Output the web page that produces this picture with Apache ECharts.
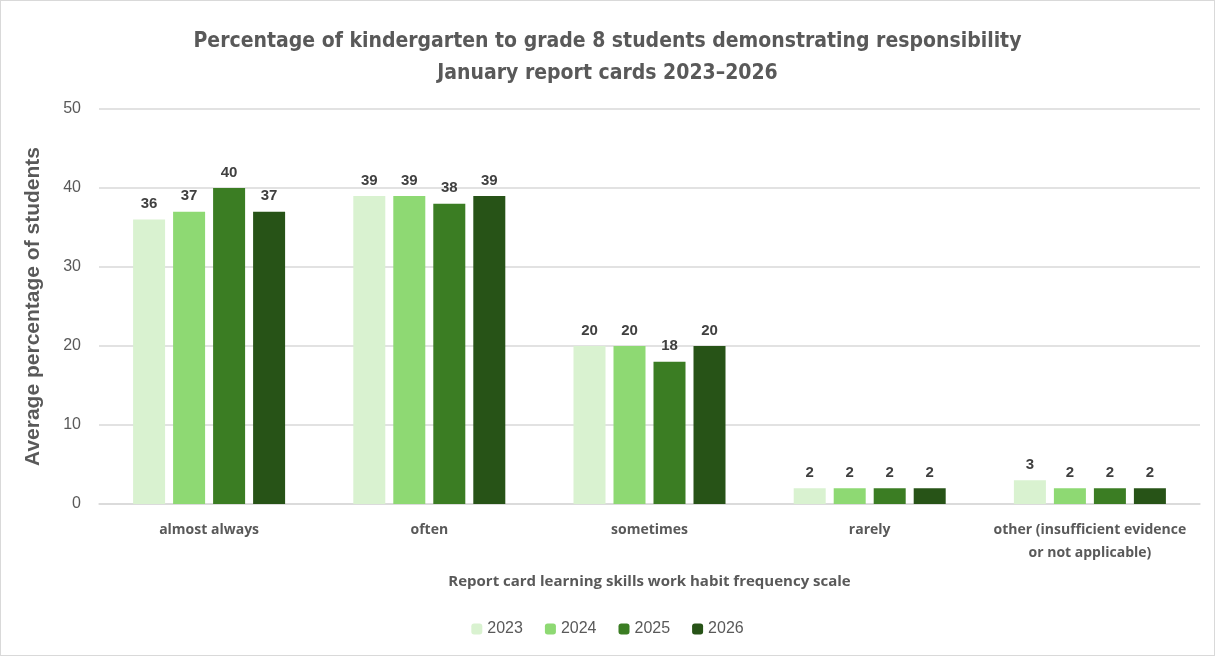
<!DOCTYPE html>
<html><head><meta charset="utf-8">
<script src="https://cdn.jsdelivr.net/npm/echarts@6/dist/echarts.min.js"></script>
<style>html,body{margin:0;padding:0;background:#fff}#c{width:1215px;height:656px;box-sizing:border-box;border:1px solid #d9d9d9}</style>
</head><body><div id="c"></div>
<script>
const categories = ['almost always', 'often', 'sometimes', 'rarely', 'other (insufficient evidence\nor not applicable)'];
const years = ['2023', '2024', '2025', '2026'];
const v2023 = [36, 39, 20, 2, 3];
const v2024 = [37, 39, 20, 2, 2];
const v2025 = [40, 38, 18, 2, 2];
const v2026 = [37, 39, 20, 2, 2];
const yTicks = [0, 10, 20, 30, 40, 50];
const colors = ['#d9f2d0', '#8ed973', '#3b7d23', '#275317'];
const values = [v2023, v2024, v2025, v2026];
const chart = echarts.init(document.getElementById('c'));
chart.setOption({
  animation: false,
  title: {
    text: 'Percentage of kindergarten to grade 8 students demonstrating responsibility\nJanuary report cards 2023–2026',
    left: 'center', top: 20,
    textStyle: { fontFamily: "'DejaVu Sans Condensed', 'Roboto', sans-serif", fontWeight: 'bold', fontSize: 21, color: '#595959', lineHeight: 32 }
  },
  legend: {
    bottom: 13, left: 'center', itemWidth: 11, itemHeight: 11, itemGap: 22,
    textStyle: { fontFamily: 'Liberation Sans', fontSize: 16, color: '#595959' },
    data: years
  },
  grid: { left: 98, right: 14, top: 108, bottom: 151 },
  xAxis: {
    type: 'category', data: categories,
    name: 'Report card learning skills work habit frequency scale',
    nameLocation: 'middle', nameGap: 70,
    nameTextStyle: { fontFamily: 'Open Sans', fontWeight: 'bold', fontSize: 15, color: '#595959' },
    axisLine: { lineStyle: { color: '#d9d9d9', width: 1.5 } },
    axisTick: { show: false },
    axisLabel: { fontFamily: 'Open Sans', fontWeight: 'bold', fontSize: 14, color: '#595959', margin: 15, lineHeight: 23, interval: 0 }
  },
  yAxis: {
    type: 'value', min: 0, max: 50, interval: 10,
    name: 'Average percentage of students', nameLocation: 'middle', nameGap: 55,
    nameTextStyle: { fontFamily: 'Liberation Sans', fontWeight: 'bold', fontSize: 21, color: '#595959' },
    axisLabel: { fontFamily: 'Liberation Sans', fontSize: 16, color: '#595959', margin: 18,
      formatter: v => yTicks.includes(v) ? String(v) : '' },
    splitLine: { lineStyle: { color: '#d9d9d9', width: 1.5 } },
    axisLine: { show: false }, axisTick: { show: false }
  },
  series: years.map((y, i) => ({
    name: y, type: 'bar', data: values[i],
    barWidth: 32, barGap: '25%',
    itemStyle: { color: colors[i] },
    label: { show: true, position: 'top', distance: 8, fontFamily: 'Liberation Sans', fontWeight: 'bold', fontSize: 15, color: '#404040' }
  }))
});
</script></body></html>
